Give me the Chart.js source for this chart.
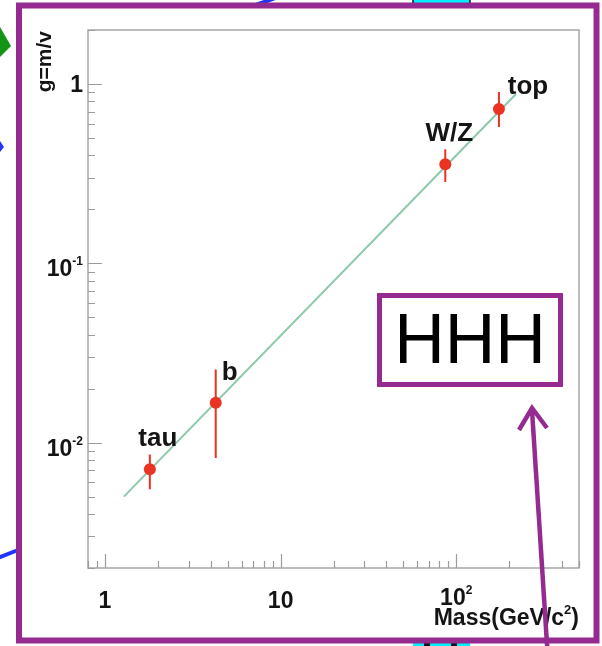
<!DOCTYPE html>
<html>
<head>
<meta charset="utf-8">
<title>g = m/v</title>
<script src="https://cdn.jsdelivr.net/npm/chart.js@4.4.1/dist/chart.umd.min.js"></script>
<style>
  html, body { margin: 0; padding: 0; background: #fff; }
  #wrap { position: relative; width: 602px; height: 646px; overflow: hidden; background: #fff; }
  #chart { position: absolute; left: 0; top: 0; filter: blur(0.5px); }
  #overlay { position: absolute; left: 0; top: 0; }
</style>
</head>
<body>
<div id="wrap">
  <canvas id="chart" width="602" height="646"></canvas>
  <svg id="overlay" width="602" height="646" xmlns="http://www.w3.org/2000/svg">
    <!-- neighbouring slide shapes -->
    <rect x="413" y="-6" width="57" height="11" fill="#00f0ff" stroke="#111" stroke-width="1.5"/>
    <rect x="413" y="641" width="57" height="12" fill="#00f0ff"/>
    <rect x="424" y="641" width="6" height="12" fill="#111"/>
    <rect x="451" y="641" width="6" height="12" fill="#111"/>
    <path d="M253 6 Q264 2 281 -4" fill="none" stroke="#1f35ff" stroke-width="4"/>
    <polygon points="0,27 11,46 0,57" fill="#139413"/>
    <polygon points="0,141 4,147 0,152" fill="#1f35ff"/>
    <line x1="-2" y1="558" x2="18" y2="550" stroke="#1f35ff" stroke-width="4"/>
    <!-- outer frame -->
    <rect x="19" y="5.5" width="577.5" height="635" fill="none" stroke="#952b90" stroke-width="6"/>
    <!-- callout -->
    <rect x="379.5" y="295.5" width="181" height="89" fill="#fff" stroke="#952b90" stroke-width="5"/>
    <text x="470" y="363" text-anchor="middle" font-family="Liberation Sans, Arial, Helvetica, sans-serif" font-size="70" fill="#000">HHH</text>
    <line x1="547.5" y1="652" x2="532" y2="410" stroke="#952b90" stroke-width="4.5"/>
    <polyline points="519,430 532,408 547,428" fill="none" stroke="#952b90" stroke-width="4.5"/>
  </svg>
</div>
<script>
// Fermion and boson couplings g = m/v versus mass
const particles = ['tau', 'b', 'W/Z', 'top'];
const masses    = [1.8, 4.27, 86.6, 175];        // GeV/c^2
const couplings = [0.0071, 0.0167, 0.357, 0.725];
const errLow    = [0.0055, 0.0082, 0.284, 0.575];
const errHigh   = [0.0086, 0.0256, 0.433, 0.902];

// straight line g = m/v
const lineMass     = [1.28, 219];
const lineCoupling = [0.0050, 0.88];

// axis ticks: [base, exponent]
const xTickValues = [1, 10, 100];
const xTickLabels = [['1', ''], ['10', ''], ['10', '2']];
const yTickValues = [1, 0.1, 0.01];
const yTickLabels = [['1', ''], ['10', '-1'], ['10', '-2']];

const xTitle = ['Mass(GeV/c', '2', ')'];
const yTitle = 'g=m/v';

// text placement of the particle names relative to their marker (px)
const nameOffsets = [[8, -30], [14, -30], [4, -30], [29, -22]];

const FONT = '"Liberation Sans", Arial, Helvetica, sans-serif';
const RED = '#ea3323';
const AXIS_GREY = '#9c9c9c';
const INK = '#141414';

function drawSup(ctx, base, exp, x, y, align, size, expSize, rise) {
  ctx.font = 'bold ' + size + 'px ' + FONT;
  const wb = ctx.measureText(base).width;
  ctx.font = 'bold ' + expSize + 'px ' + FONT;
  const we = exp ? ctx.measureText(exp).width : 0;
  const total = wb + we;
  let start = x;
  if (align === 'right') start = x - total;
  else if (align === 'center') start = x - total / 2;
  ctx.textAlign = 'left';
  ctx.textBaseline = 'alphabetic';
  ctx.font = 'bold ' + size + 'px ' + FONT;
  ctx.fillText(base, start, y);
  if (exp) {
    ctx.font = 'bold ' + expSize + 'px ' + FONT;
    ctx.fillText(exp, start + wb, y - rise);
  }
}

const rootStyleAxes = {
  id: 'rootStyleAxes',
  beforeDatasetsDraw(chart) {
    const { ctx, chartArea: a, scales: { x, y } } = chart;
    ctx.save();
    ctx.strokeStyle = '#a6a6a6';
    ctx.lineWidth = 1.5;
    ctx.strokeRect(a.left, a.top, a.right - a.left, a.bottom - a.top);

    ctx.strokeStyle = AXIS_GREY;
    ctx.lineWidth = 1.2;
    ctx.beginPath();
    for (let d = -1; d <= 2; d++) {
      for (let k = 1; k <= 9; k++) {
        const v = k * Math.pow(10, d);
        if (v < x.min || v > x.max) continue;
        const px = Math.round(x.getPixelForValue(v)) + 0.5;
        const len = k === 1 ? 14 : 7;
        ctx.moveTo(px, a.bottom);
        ctx.lineTo(px, a.bottom - len);
      }
    }
    for (let d = -3; d <= 0; d++) {
      for (let k = 1; k <= 9; k++) {
        const v = k * Math.pow(10, d);
        if (v < y.min || v > y.max) continue;
        const py = Math.round(y.getPixelForValue(v)) + 0.5;
        const len = k === 1 ? 14 : 7;
        ctx.moveTo(a.left, py);
        ctx.lineTo(a.left + len, py);
      }
    }
    ctx.stroke();
    ctx.restore();
  },
  beforeDatasetDraw(chart, args) {
    if (args.index !== 0) return;
    const { ctx, scales: { x, y } } = chart;
    ctx.save();
    ctx.strokeStyle = RED;
    ctx.lineWidth = 2;
    ctx.beginPath();
    masses.forEach((m, i) => {
      const px = x.getPixelForValue(m);
      ctx.moveTo(px, y.getPixelForValue(errLow[i]));
      ctx.lineTo(px, y.getPixelForValue(errHigh[i]));
    });
    ctx.stroke();
    ctx.restore();
  },
  afterDatasetsDraw(chart) {
    const { ctx, chartArea: a, scales: { x, y } } = chart;
    ctx.save();
    ctx.fillStyle = INK;

    // particle names
    ctx.font = 'bold 26px ' + FONT;
    ctx.textAlign = 'center';
    ctx.textBaseline = 'middle';
    particles.forEach((name, i) => {
      const px = x.getPixelForValue(masses[i]) + nameOffsets[i][0];
      const py = y.getPixelForValue(couplings[i]) + nameOffsets[i][1];
      ctx.fillText(name, px, py);
    });

    // x tick labels
    xTickValues.forEach((v, i) => {
      const px = x.getPixelForValue(v);
      const [b, e] = xTickLabels[i];
      drawSup(ctx, b, e, px, a.bottom + (e ? 37 : 40), 'center', 23, 12, 11);
    });
    // y tick labels
    yTickValues.forEach((v, i) => {
      const py = y.getPixelForValue(v);
      const [b, e] = yTickLabels[i];
      drawSup(ctx, b, e, a.left - 5, py + (e ? 13 : 8), 'right', 23, 12, 11);
    });

    // axis titles
    ctx.font = 'bold 23px ' + FONT;
    const w1 = ctx.measureText(xTitle[0]).width;
    const w3 = ctx.measureText(xTitle[2]).width;
    ctx.font = 'bold 13px ' + FONT;
    const w2 = ctx.measureText(xTitle[1]).width;
    const startX = a.right - (w1 + w2 + w3);
    const baseY = 625;
    ctx.textAlign = 'left';
    ctx.textBaseline = 'alphabetic';
    ctx.font = 'bold 23px ' + FONT;
    ctx.fillText(xTitle[0], startX, baseY);
    ctx.font = 'bold 13px ' + FONT;
    ctx.fillText(xTitle[1], startX + w1, baseY - 11);
    ctx.font = 'bold 23px ' + FONT;
    ctx.fillText(xTitle[2], startX + w1 + w2, baseY);

    ctx.translate(51, a.top + 1);
    ctx.rotate(-Math.PI / 2);
    ctx.font = 'bold 21px ' + FONT;
    ctx.textAlign = 'right';
    ctx.fillText(yTitle, 0, 0);
    ctx.restore();
  }
};

new Chart(document.getElementById('chart'), {
  type: 'scatter',
  data: {
    datasets: [
      {
        label: 'g = m/v',
        data: masses.map((m, i) => ({ x: m, y: couplings[i] })),
        pointRadius: 6,
        pointHoverRadius: 6,
        pointBackgroundColor: RED,
        pointBorderWidth: 0,
        showLine: false
      },
      {
        label: 'fit',
        data: lineMass.map((m, i) => ({ x: m, y: lineCoupling[i] })),
        showLine: true,
        pointRadius: 0,
        borderColor: '#8cc9aa',
        borderWidth: 2,
        fill: false
      }
    ]
  },
  options: {
    responsive: false,
    animation: false,
    events: [],
    layout: { padding: { left: 88, right: 23, top: 30, bottom: 78 } },
    plugins: { legend: { display: false }, tooltip: { enabled: false } },
    scales: {
      x: { type: 'logarithmic', min: 0.8, max: 500, display: false },
      y: { type: 'logarithmic', min: 0.002, max: 2, display: false }
    }
  },
  plugins: [rootStyleAxes]
});
</script>
</body>
</html>
